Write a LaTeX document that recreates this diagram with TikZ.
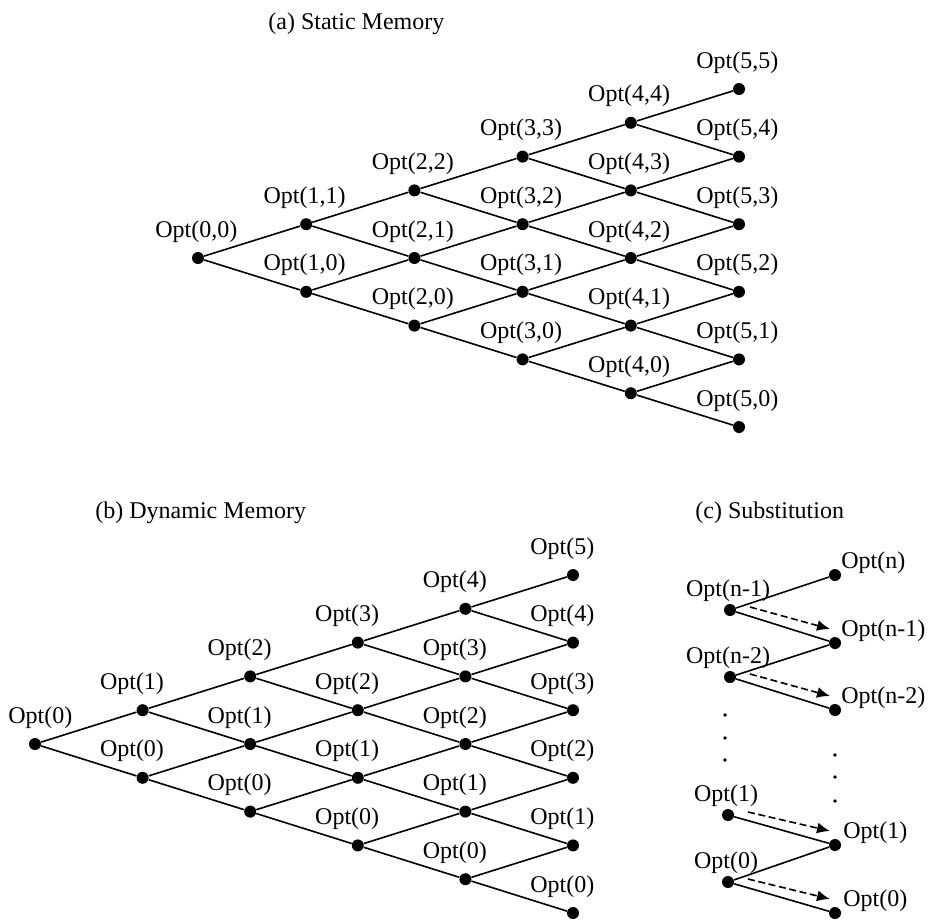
\documentclass[tikz,border=0pt]{standalone}
\usepackage{fontspec}
\setmainfont{Liberation Serif}
\usetikzlibrary{positioning,arrows.meta}
\tikzset{
	pt/.style={circle,fill=black,inner sep=0pt,minimum size=6pt},
	tinypt/.style={circle,fill=black,inner sep=0pt,minimum size=1.8pt},
	lbl/.style={anchor=base west,inner sep=0pt,font=\fontsize{12}{14}\selectfont},
	edge/.style={line width=0.8pt},
	subst/.style={edge,dash pattern=on 3.5pt off 1.8pt,-{Latex[length=6.5pt,width=5.5pt]}}
}

\begin{document}
\begin{tikzpicture}[x=0.5pt,y=-0.5pt]
	\useasboundingbox (0,0) rectangle (930,922);
	\def\dy{33.8};
	
	%Titres
	\node[lbl] (ta) at (268,29) {(a) Static Memory};
	\node[lbl] (tb) at (95,518) {(b) Dynamic Memory};
	\node[lbl] (tc) at (695,518) {(c) Substitution};
	
	%(a) treillis statique
	\foreach \i in {0,...,5}
		\foreach \j in {0,...,\i}
			\node[pt] (a-\i-\j) at ({198+108.2*\i},{258-\dy*(2*\j-\i)}) {};
	\foreach \i in {0,...,4} {
		\pgfmathtruncatemacro\k{\i+1}
		\foreach \j in {0,...,\i} {
			\pgfmathtruncatemacro\m{\j+1}
			\draw[edge] (a-\i-\j) -- (a-\k-\j);
			\draw[edge] (a-\i-\j) -- (a-\k-\m);
		}
	}
	\foreach \i in {0,...,5}
		\foreach \j in {0,...,\i}
			\node[lbl] at ([shift={(-43,-21)}]a-\i-\j.center) {Opt(\i,\j)};
	
	%(b) treillis dynamique
	\foreach \i in {0,...,5}
		\foreach \j in {0,...,\i}
			\node[pt] (b-\i-\j) at ({35+107.6*\i},{744-\dy*(2*\j-\i)}) {};
	\foreach \i in {0,...,4} {
		\pgfmathtruncatemacro\k{\i+1}
		\foreach \j in {0,...,\i} {
			\pgfmathtruncatemacro\m{\j+1}
			\draw[edge] (b-\i-\j) -- (b-\k-\j);
			\draw[edge] (b-\i-\j) -- (b-\k-\m);
		}
	}
	\node[lbl] at ([shift={(-27,-21)}]b-0-0.center) {Opt(0)};
	\foreach \i in {1,...,5}
		\foreach \j in {0,...,\i}
			\node[lbl] at ([shift={(-43,-21)}]b-\i-\j.center) {Opt(\j)};
	
	%(c) substitution
	\node[pt] (r-n) at (835,575) {};
	\node[pt] (l-n1) at (730,610) {};
	\node[pt] (r-n1) at (835,643) {};
	\node[pt] (l-n2) at (730,677) {};
	\node[pt] (r-n2) at (835,710) {};
	\node[pt] (l-1) at (728,815) {};
	\node[pt] (r-1) at (835,845) {};
	\node[pt] (l-0) at (728,882) {};
	\node[pt] (r-0) at (835,913) {};
	
	\draw[edge] (l-n1) -- (r-n);
	\draw[edge] (l-n1) -- (r-n1);
	\draw[edge] (l-n2) -- (r-n1);
	\draw[edge] (l-n2) -- (r-n2);
	\draw[edge] (l-1) -- (r-1);
	\draw[edge] (l-0) -- (r-1);
	\draw[edge] (l-0) -- (r-0);
	
	\draw[subst] ([shift={(20,-3)}]l-n1.center) -- ([shift={(-5,-14)}]r-n1.center);
	\draw[subst] ([shift={(20,-3)}]l-n2.center) -- ([shift={(-5,-14)}]r-n2.center);
	\draw[subst] ([shift={(20,-3)}]l-1.center) -- ([shift={(-5,-14)}]r-1.center);
	\draw[subst] ([shift={(20,-3)}]l-0.center) -- ([shift={(-5,-14)}]r-0.center);
	
	%Points de suspension
	\node[tinypt] at (725,715) {};
	\node[tinypt] at (725,738) {};
	\node[tinypt] at (725,760) {};
	\node[tinypt] at (835,755) {};
	\node[tinypt] at (835,777) {};
	\node[tinypt] at (835,801) {};
	
	\node[lbl,anchor=base] at ([shift={(-2,-14)}]l-n1.center) {Opt(n-1)};
	\node[lbl,anchor=base] at ([shift={(-2,-14)}]l-n2.center) {Opt(n-2)};
	\node[lbl,anchor=base] at ([shift={(-2,-14)}]l-1.center) {Opt(1)};
	\node[lbl,anchor=base] at ([shift={(-2,-14)}]l-0.center) {Opt(0)};
	\node[lbl] at ([shift={(6,-7)}]r-n.center) {Opt(n)};
	\node[lbl] at ([shift={(6,-7)}]r-n1.center) {Opt(n-1)};
	\node[lbl] at ([shift={(6,-7)}]r-n2.center) {Opt(n-2)};
	\node[lbl] at ([shift={(8,-7)}]r-1.center) {Opt(1)};
	\node[lbl] at ([shift={(8,-7)}]r-0.center) {Opt(0)};
\end{tikzpicture}
\end{document}
